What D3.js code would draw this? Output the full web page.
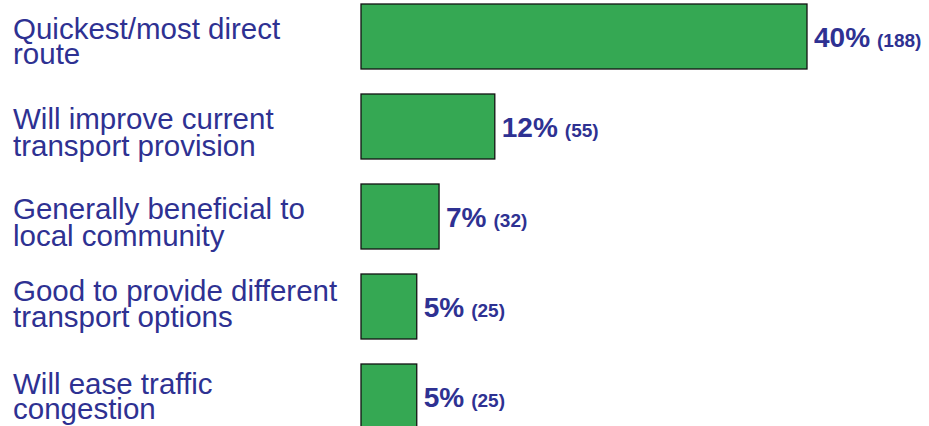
<!DOCTYPE html>
<html><head><meta charset="utf-8">
<script src="https://cdn.jsdelivr.net/npm/d3@7"></script>
<style>body{margin:0;background:#fff}svg{display:block}</style>
</head><body><svg id="c" width="929" height="426"></svg>
<script>
const categories = [
  ["Quickest/most direct", "route"],
  ["Will improve current", "transport provision"],
  ["Generally beneficial to", "local community"],
  ["Good to provide different", "transport options"],
  ["Will ease traffic", "congestion"]
];
const percents = [40, 12, 7, 5, 5];
const counts = [188, 55, 32, 25, 25];

// layout (not data): per-row vertical nudge of the category label block
const labelNudge = [0, 0, 0, -8, -5];
const labelGap = [25, 27, 27, 26, 25];

const svg = d3.select("#c");
const blue = "#2E3192", green = "#35A853";
const x = d3.scaleLinear().domain([0, 40]).range([361, 807]);
const y = d3.scaleBand().domain(d3.range(categories.length))
  .range([4 - 12.5, 4 - 12.5 + 90 * 5]).paddingInner(25/90).paddingOuter(12.5/90);

const g = svg.append("g");
g.selectAll("rect").data(percents).join("rect")
  .attr("x", x(0)).attr("y", (d, i) => y(i))
  .attr("width", d => x(d) - x(0)).attr("height", y.bandwidth())
  .attr("fill", green).attr("stroke", "#111").attr("stroke-width", 1.3);

const lab = g.selectAll("text.cat").data(categories).join("text")
  .attr("class", "cat")
  .attr("font-family", "Liberation Sans, Arial, sans-serif")
  .attr("font-size", 29.5).attr("fill", blue);
lab.each(function(d, i) {
  const c = y(i) + y.bandwidth() / 2;
  d3.select(this).selectAll("tspan").data(d).join("tspan")
    .attr("x", 13).attr("y", (t, j) => c + 2.5 + labelNudge[i] + j * labelGap[i]).text(t => t);
});

const vl = g.selectAll("text.val").data(percents).join("text")
  .attr("class", "val")
  .attr("font-family", "Liberation Sans, Arial, sans-serif")
  .attr("font-weight", "bold").attr("fill", blue)
  .attr("x", d => x(d) + 7)
  .attr("y", (d, i) => y(i) + y.bandwidth() / 2 + 10.5);
vl.append("tspan").attr("font-size", 28).text(d => d + "%");
vl.append("tspan").attr("font-size", 19).attr("dx", 7).text((d, i) => "(" + counts[i] + ")");
</script></body></html>
